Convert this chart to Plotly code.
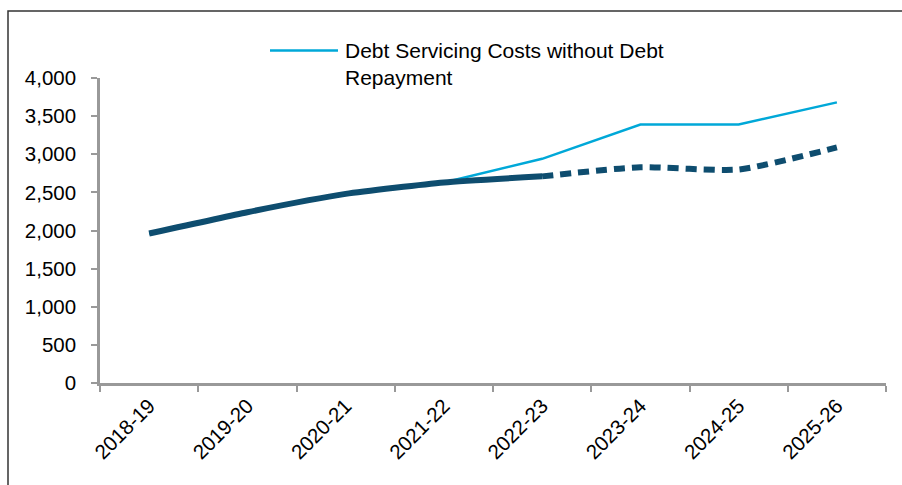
import plotly.graph_objects as go

# Financial years on the category axis
years = ["2018-19", "2019-20", "2020-21", "2021-22", "2022-23",
         "2023-24", "2024-25", "2025-26"]

# Debt servicing costs excluding debt repayment
costs_without_repayment = [1960, 2240, 2480, 2630, 2940, 3390, 3390, 3680]

# Total debt servicing: actuals up to 2022-23, projections afterwards
servicing_actual = [1960, 2240, 2480, 2630, 2710]
servicing_projected = [2710, 2830, 2800, 3090]

legend_label = "Debt Servicing Costs without Debt<br>Repayment"

LIGHT = "#00A8D8"
DARK = "#0E4D6F"
AXIS = "#999999"
FONT = "Liberation Sans, Arial, sans-serif"

fig = go.Figure()

fig.add_trace(go.Scatter(
    x=years, y=costs_without_repayment, mode="lines",
    line=dict(color=LIGHT, width=2.5), showlegend=False,
))
fig.add_trace(go.Scatter(
    x=years[:len(servicing_actual)], y=servicing_actual, mode="lines",
    line=dict(color=DARK, width=6, shape="spline", smoothing=0.5),
    showlegend=False,
))
fig.add_trace(go.Scatter(
    x=years[len(servicing_actual) - 1:], y=servicing_projected, mode="lines",
    line=dict(color=DARK, width=6, dash="11px,7px", shape="spline",
              smoothing=0.6),
    showlegend=False,
))

ML, MR, MT, MB = 100, 16, 78, 102
W, H = 902, 485
PW, PH = W - ML - MR, H - MT - MB


def px(x):
    return (x - ML) / PW


def py(y):
    return (H - MB - y) / PH


# Outer frame around the chart
fig.add_shape(type="rect", xref="paper", yref="paper",
              x0=px(8), x1=px(915), y0=py(500), y1=py(11),
              line=dict(color="#333333", width=1.5))

# Legend key drawn as a line sample plus text
fig.add_shape(type="line", xref="paper", yref="paper",
              x0=px(270), x1=px(338), y0=py(50.5), y1=py(50.5),
              line=dict(color=LIGHT, width=2.5))
fig.add_annotation(xref="paper", yref="paper", x=px(343), y=py(37),
                   xanchor="left", yanchor="top", showarrow=False,
                   align="left", text=legend_label,
                   font=dict(family=FONT, size=21, color="#000000"))

fig.update_layout(
    width=W, height=H,
    margin=dict(l=ML, r=MR, t=MT, b=MB),
    paper_bgcolor="white", plot_bgcolor="white",
    font=dict(family=FONT, size=20, color="#000000"),
    xaxis=dict(
        type="category", range=[-0.5, 7.5], tickangle=-45,
        tickson="boundaries", ticks="outside", ticklen=6, tickwidth=2,
        tickcolor=AXIS, showline=True, linecolor=AXIS, linewidth=2.5,
        showgrid=False, zeroline=False,
        tickfont=dict(family=FONT, size=20.5),
    ),
    yaxis=dict(
        range=[0, 4000], tickvals=list(range(0, 4001, 500)),
        tickformat=",d", ticks="outside", ticklen=6, tickwidth=2,
        tickcolor=AXIS, showline=True, linecolor=AXIS, linewidth=2.5,
        showgrid=False, zeroline=False, ticklabelstandoff=11,
        tickfont=dict(family=FONT, size=20.5),
    ),
)

fig.write_html("out.html")
